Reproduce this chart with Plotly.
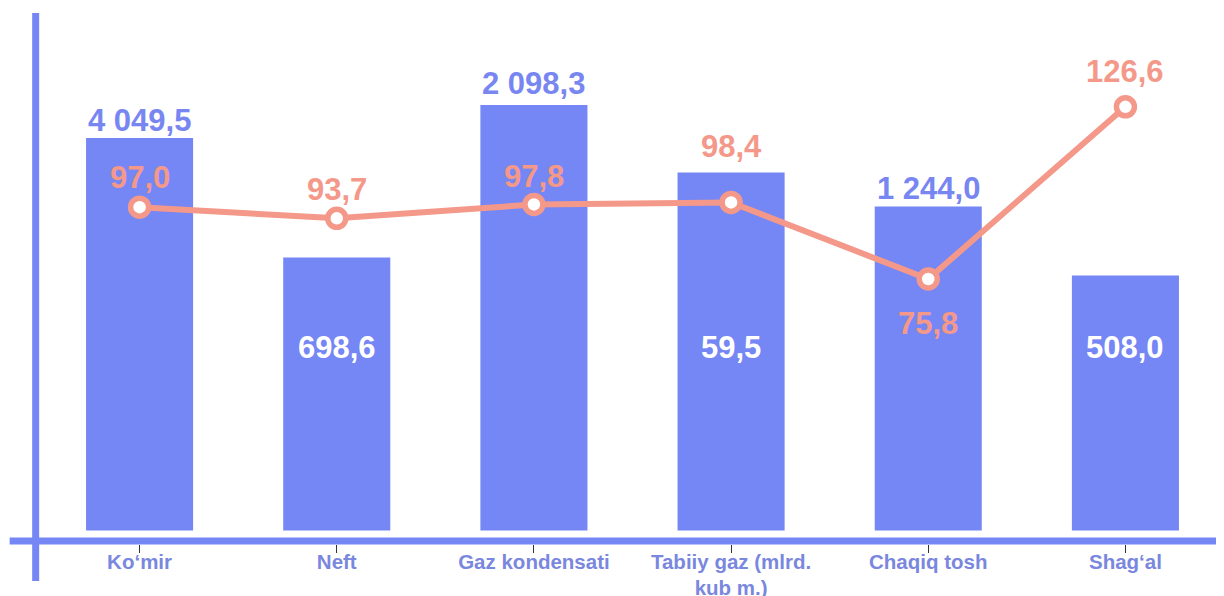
import plotly.graph_objects as go

categories = ["Ko‘mir", "Neft", "Gaz kondensati", "Tabiiy gaz (mlrd.<br>kub m.)", "Chaqiq tosh", "Shag‘al"]
production_values = [4049.5, 698.6, 2098.3, 59.5, 1244.0, 508.0]
bar_display_heights = [392.5, 273, 425.5, 358, 324, 255]
growth_percent = [97.0, 93.7, 97.8, 98.4, 75.8, 126.6]

BAR = "#7586F5"
AXIS = "#7586F5"
BLUE_TXT = "#7886F2"
CAT_TXT = "#7A87DE"
SALMON = "#F4988A"
FONT = "Liberation Sans, Arial, sans-serif"


def fmt(v):
    s = f"{v:,.1f}"
    return s.replace(",", " ").replace(".", ",")


# label placement (styling only)
bar_label_inside = [False, True, False, True, False, True]
bar_label_shift = [17.5, 0, 22, 0, 18, 0]
inside_label_y = 183.5
line_label_shift = [29.5, 29, 28, 56, -44, 35]
VAL_SIZE = 31

fig = go.Figure()
fig.add_trace(go.Bar(
    x=categories, y=bar_display_heights, marker=dict(color=BAR, line=dict(width=0)),
    width=0.543, hoverinfo="skip", showlegend=False,
))
fig.add_trace(go.Scatter(
    x=categories, y=growth_percent, yaxis="y2", mode="lines+markers",
    line=dict(color=SALMON, width=6),
    marker=dict(size=18, color="white", line=dict(color=SALMON, width=5.5)),
    hoverinfo="skip", showlegend=False,
))

annotations = []
for i, c in enumerate(categories):
    if bar_label_inside[i]:
        annotations.append(dict(
            x=c, y=inside_label_y, xref="x", yref="y", text=fmt(production_values[i]),
            showarrow=False, yanchor="middle",
            font=dict(family=FONT, size=VAL_SIZE, color="white", weight="bold")))
    else:
        annotations.append(dict(
            x=c, y=bar_display_heights[i], xref="x", yref="y", text=fmt(production_values[i]),
            showarrow=False, yanchor="middle", yshift=bar_label_shift[i],
            font=dict(family=FONT, size=VAL_SIZE, color=BLUE_TXT, weight="bold")))
    annotations.append(dict(
        x=c, y=growth_percent[i], xref="x", yref="y2", text=fmt(growth_percent[i]),
        showarrow=False, yanchor="middle", yshift=line_label_shift[i],
        font=dict(family=FONT, size=VAL_SIZE, color=SALMON, weight="bold")))

shapes = [
    dict(type="line", xref="paper", yref="paper", x0=-0.0265, x1=1.01, y0=0.0056, y1=0.0056,
         line=dict(color=AXIS, width=7)),
    dict(type="line", xref="paper", yref="paper", x0=-0.0045, x1=-0.0045, y0=-0.069, y1=0.9907,
         line=dict(color=AXIS, width=7)),
]

fig.update_layout(
    width=1224, height=596,
    margin=dict(l=33, r=8, t=0, b=60, autoexpand=False),
    paper_bgcolor="white", plot_bgcolor="white",
    xaxis=dict(
        type="category", range=[-0.5, 5.5], showgrid=False, showline=False, zeroline=False,
        automargin=False,
        ticks="outside", ticklen=8, tickwidth=1.2, tickcolor="#333333",
        ticklabelstandoff=-9,
        tickfont=dict(family=FONT, size=20.5, color=CAT_TXT, weight="bold"),
    ),
    yaxis=dict(range=[-13.5, 522.5], visible=False, showgrid=False, zeroline=False,
               automargin=False),
    yaxis2=dict(range=[-2.36, 155.75], overlaying="y", visible=False, showgrid=False,
                zeroline=False, automargin=False),
    annotations=annotations,
    shapes=shapes,
    font=dict(family=FONT),
)

fig.write_html("out.html")
